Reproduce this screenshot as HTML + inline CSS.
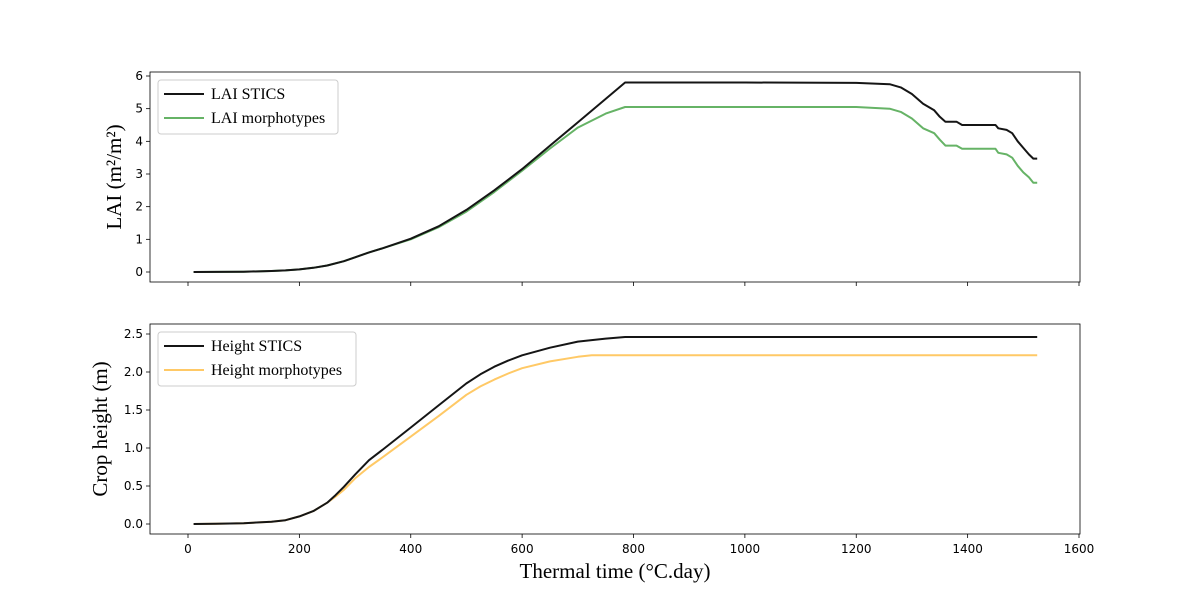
<!DOCTYPE html>
<html><head><meta charset="utf-8"><style>
body{margin:0;background:#fff}
svg text{font-family:"DejaVu Sans",sans-serif;font-size:12px;fill:#000}
.serif{font-family:"Liberation Serif",serif !important}
</style></head><body>
<svg id="c" width="1200" height="600"></svg>
<script>
const tTop=[10,50,100,150,175,200,225,250,280,300,325,350,400,450,500,550,600,650,700,750,785,1000,1200,1260,1280,1300,1320,1340,1350,1360,1380,1390,1450,1455,1470,1480,1490,1500,1510,1518,1525];
const laiStics=[0,0.002,0.01,0.03,0.05,0.08,0.13,0.2,0.33,0.45,0.6,0.73,1.02,1.4,1.9,2.5,3.15,3.87,4.58,5.3,5.8,5.8,5.79,5.75,5.65,5.45,5.15,4.95,4.75,4.6,4.6,4.5,4.5,4.4,4.35,4.25,4.0,3.8,3.6,3.47,3.47];
const laiMorph=[0,0.002,0.01,0.03,0.05,0.08,0.13,0.2,0.33,0.45,0.6,0.73,1.0,1.37,1.85,2.45,3.1,3.78,4.42,4.85,5.05,5.05,5.05,5.0,4.9,4.7,4.4,4.25,4.05,3.87,3.87,3.77,3.77,3.65,3.6,3.5,3.25,3.05,2.9,2.73,2.73];
const tBot=[10,50,100,150,175,200,225,250,265,280,300,325,350,400,450,500,525,550,575,600,650,700,725,750,785,1525];
const hStics=[0,0.002,0.01,0.03,0.05,0.1,0.17,0.28,0.38,0.49,0.65,0.84,0.98,1.27,1.56,1.85,1.97,2.07,2.15,2.22,2.32,2.4,2.42,2.44,2.46,2.46];
const hMorph=[0,0.002,0.01,0.03,0.05,0.1,0.17,0.28,0.36,0.45,0.6,0.75,0.88,1.15,1.42,1.7,1.81,1.9,1.98,2.05,2.14,2.2,2.22,2.22,2.22,2.22];
const xTicks=[0,200,400,600,800,1000,1200,1400,1600];
const topTicks=[0,1,2,3,4,5,6];
const botTicks=[0,0.5,1.0,1.5,2.0,2.5];
const NS='http://www.w3.org/2000/svg', svg=document.getElementById('c');
function mk(tag,a,txt){const e=document.createElementNS(NS,tag);for(const k in a)e.setAttribute(k,a[k]);if(txt!==undefined)e.textContent=txt;svg.appendChild(e);return e;}
const X=t=>188+t*(1079-188)/1600;
const yTop=v=>272-v*(272-76)/6;
const yBot=v=>524-v*76;
function axes(y0,y1,ticks,Y,fmt,name,showXLabels){
  const r=mk('rect',{x:150,y:y0,width:930,height:y1-y0,fill:'none',stroke:'#000','stroke-width':0.8});
  
  ticks.forEach(v=>{const y=Y(v);mk('line',{x1:146,x2:150,y1:y,y2:y,stroke:'#000','stroke-width':0.8});
    const t=mk('text',{x:143,y:y+4,'text-anchor':'end'},fmt(v));});
  xTicks.forEach(v=>{const x=X(v);mk('line',{x1:x,x2:x,y1:y1,y2:y1+4,stroke:'#000','stroke-width':0.8});
    if(showXLabels){const t=mk('text',{x:x,y:y1+19,'text-anchor':'middle'},v);}});
}
function line(ts,vs,Y,col,name){const d=ts.map((t,i)=>(i?'L':'M')+X(t).toFixed(1)+','+Y(vs[i]).toFixed(1)).join('');
  const p=mk('path',{d:d,fill:'none',stroke:col,'stroke-width':2,'stroke-linejoin':'round'});}
function legend(x,y,w,items,name){const g=mk('rect',{x:x,y:y,width:w,height:54,rx:3,fill:'#fff','fill-opacity':0.8,stroke:'#ccc'});
  
  items.forEach((it,i)=>{const yy=y+14+i*24;mk('line',{x1:x+6,x2:x+46,y1:yy,y2:yy,stroke:it[1],'stroke-width':2});
    const t=mk('text',{x:x+53,y:yy+5,class:'serif'},it[0]);t.setAttribute('style','font-size:16px');});}
axes(72,282,topTicks,yTop,v=>v,'top-axes',false);
axes(324,534,botTicks,yBot,v=>v.toFixed(1),'bottom-axes',true);
line(tTop,laiMorph,yTop,'#66b366','lai-morphotypes-line');
line(tTop,laiStics,yTop,'#151515','lai-stics-line');
line(tBot,hMorph,yBot,'#ffc966','height-morphotypes-line');
line(tBot,hStics,yBot,'#151515','height-stics-line');
legend(158,80,180,[['LAI STICS','#151515'],['LAI morphotypes','#66b366']],'top-legend');
legend(158,332,198,[['Height STICS','#151515'],['Height morphotypes','#ffc966']],'bottom-legend');
let t=mk('text',{x:615,y:578,'text-anchor':'middle',class:'serif',style:'font-size:21px'},'Thermal time (°C.day)');
t=mk('text',{x:0,y:0,'text-anchor':'middle',class:'serif',style:'font-size:21px',transform:'translate(121,177) rotate(-90)'},'LAI (m²/m²)');
t=mk('text',{x:0,y:0,'text-anchor':'middle',class:'serif',style:'font-size:21px',transform:'translate(107,429) rotate(-90)'},'Crop height (m)');
</script>
</body></html>
